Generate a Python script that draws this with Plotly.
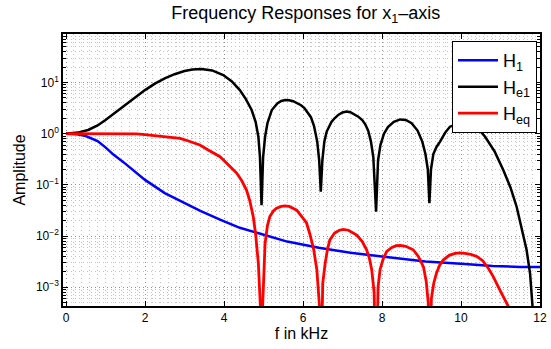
import plotly.graph_objects as go

# ---------------- data ----------------
f_h1 = [0, 0.25, 0.5, 0.8, 1.0, 1.2, 1.5, 1.75, 2.0, 2.5, 3.0, 3.4, 3.9, 4.4, 4.9,
        5.6, 6.4, 7.2, 8.0, 9.1, 10.1, 10.8, 11.5, 12.0]
h1 = [1.0, 0.98, 0.90, 0.72, 0.54, 0.39, 0.26, 0.18, 0.125, 0.069, 0.044, 0.031,
      0.021, 0.0145, 0.0112, 0.0078, 0.0059, 0.0047, 0.0040, 0.0032, 0.00285,
      0.0026, 0.0025, 0.0025]

f_he1 = [0, 0.3, 0.56, 0.8, 1.0, 1.25, 1.5, 1.75, 2.0, 2.25, 2.5, 2.75, 3.0, 3.2,
         3.43, 3.7, 3.98, 4.2, 4.4, 4.55, 4.7, 4.8, 4.87, 4.91, 4.95, 4.99, 5.04,
         5.1, 5.21, 5.35, 5.45, 5.55, 5.65, 5.75, 5.85, 5.95, 6.03, 6.1, 6.2,
         6.28, 6.36, 6.41, 6.45, 6.49, 6.54, 6.6, 6.64, 6.72, 6.8, 6.9, 7.0, 7.1,
         7.2, 7.3, 7.4, 7.5, 7.58, 7.65, 7.72, 7.78, 7.85, 7.9, 7.96, 8.05, 8.15,
         8.3, 8.46, 8.6, 8.75, 8.9, 9.02, 9.1, 9.16, 9.2, 9.24, 9.3, 9.38, 9.47,
         9.6, 9.72, 9.95, 10.15, 10.4, 10.61, 10.85, 11.07, 11.25, 11.41, 11.55,
         11.66, 11.75, 11.83, 11.9]
he1 = [1.0, 1.05, 1.18, 1.45, 1.85, 2.6, 3.6, 5.0, 7.1, 9.5, 12.0, 14.5, 16.8,
       17.9, 18.4, 17.2, 14.0, 10.5, 7.1, 4.8, 2.9, 1.7, 0.87, 0.35, 0.04, 0.35,
       0.87, 1.6, 2.9, 3.9, 4.35, 4.55, 4.5, 4.3, 4.0, 3.6, 3.2, 2.7, 2.1, 1.4,
       0.7, 0.3, 0.074, 0.3, 0.7, 1.1, 1.3, 1.7, 2.0, 2.35, 2.6, 2.7, 2.62, 2.4,
       2.15, 1.85, 1.5, 1.15, 0.7, 0.35, 0.03, 0.3, 0.6, 1.0, 1.35, 1.7, 1.9,
       1.85, 1.6, 1.15, 0.7, 0.4, 0.2, 0.044, 0.2, 0.4, 0.55, 0.7, 1.05, 1.37,
       1.6, 1.65, 1.35, 0.87, 0.45, 0.195, 0.09, 0.037, 0.013, 0.0054, 0.0018,
       0.0004, 0.00005]

f_heq = [0, 0.5, 1.0, 1.5, 1.79, 2.0, 2.25, 2.63, 2.89, 3.1, 3.39, 3.6, 3.9, 4.0,
         4.2, 4.32, 4.45, 4.57, 4.65, 4.74, 4.8, 4.87, 4.93, 4.95, 4.97, 5.04,
         5.1, 5.16, 5.25, 5.33, 5.45, 5.54, 5.65, 5.75, 5.84, 5.95, 6.09, 6.18,
         6.27, 6.35, 6.42, 6.45, 6.5, 6.56, 6.62, 6.68, 6.8, 6.92, 7.02, 7.15,
         7.26, 7.36, 7.5, 7.61, 7.68, 7.74, 7.8, 7.85, 7.9, 7.95, 8.03, 8.12,
         8.25, 8.36, 8.46, 8.6, 8.79, 8.92, 9.05, 9.12, 9.17, 9.2, 9.25, 9.31,
         9.38, 9.46, 9.55, 9.7, 9.85, 9.97, 10.1, 10.25, 10.4, 10.55, 10.7,
         10.82, 10.95, 11.1, 11.2, 11.3, 11.4]
heq = [1.0, 1.0, 1.0, 1.0, 0.99, 0.96, 0.92, 0.85, 0.81, 0.72, 0.60, 0.48, 0.355,
       0.30, 0.21, 0.17, 0.12, 0.079, 0.05, 0.024, 0.011, 0.0029, 0.0003,
       0.00001, 0.0003, 0.0072, 0.016, 0.024, 0.031, 0.035, 0.038, 0.039,
       0.038, 0.035, 0.032, 0.025, 0.018, 0.0105, 0.0055, 0.0022, 0.0004,
       0.00001, 0.0012, 0.0029, 0.0055, 0.0084, 0.0115, 0.013, 0.0135, 0.013,
       0.0118, 0.0105, 0.0078, 0.0054, 0.0037, 0.0022, 0.0008, 0.00001, 0.001,
       0.0022, 0.0036, 0.005, 0.006, 0.0065, 0.0066, 0.0063, 0.0054, 0.0040,
       0.0025, 0.0013, 0.0005, 0.00001, 0.0006, 0.0012, 0.0019, 0.0027, 0.0034,
       0.0042, 0.0046, 0.0047, 0.0046, 0.0044, 0.0040, 0.0033, 0.0023, 0.0016,
       0.0010, 0.0006, 0.00042, 0.00022, 0.0001]

x_ticks = [0, 2, 4, 6, 8, 10, 12]
y_ticks = [1e-3, 1e-2, 1e-1, 1e0, 1e1]
y_ticktext = ["10<sup>−3</sup>", "10<sup>−2</sup>", "10<sup>−1</sup>",
              "10<sup>0</sup>", "10<sup>1</sup>"]

# ---------------- figure ----------------
FONT = "Liberation Sans, Arial, Helvetica, sans-serif"

fig = go.Figure()
fig.add_trace(go.Scatter(x=f_h1, y=h1, mode="lines", name="H<sub>1</sub>",
                         line=dict(color="#0000ff", width=2.5)))
fig.add_trace(go.Scatter(x=f_he1, y=he1, mode="lines", name="H<sub>e1</sub>",
                         line=dict(color="#000000", width=2.5)))
fig.add_trace(go.Scatter(x=f_heq, y=heq, mode="lines", name="H<sub>eq</sub>",
                         line=dict(color="#ff0000", width=2.8)))

minor_y = [m * 10.0 ** d for d in range(-4, 2) for m in range(2, 10)]

fig.update_layout(
    width=551, height=349,
    margin=dict(l=63, r=11, t=34, b=43),
    paper_bgcolor="white", plot_bgcolor="white",
    font=dict(family=FONT, color="black", size=12),
    title=dict(text="Frequency Responses for x<sub>1</sub>–axis",
               x=0.555, xanchor="center", y=0.982, yanchor="top",
               font=dict(size=18)),
    showlegend=True,
    legend=dict(x=0.8155, y=0.974, xanchor="left", yanchor="top",
                bgcolor="white", bordercolor="black", borderwidth=1,
                font=dict(size=18), itemwidth=40, tracegroupgap=0),
)

fig.update_xaxes(
    range=[-0.076, 12.0], tickvals=x_ticks, ticktext=[str(v) for v in x_ticks],
    ticks="inside", ticklen=5, tickcolor="black", mirror="allticks",
    showline=True, linecolor="black", linewidth=1.5, automargin=False,
    showgrid=True, gridcolor="#909090", griddash="1px,3px", gridwidth=1,
    zeroline=False, tickfont=dict(size=12),
    title=dict(text="f in kHz", font=dict(size=16), standoff=2),
    minor=dict(dtick=0.2, ticks="", showgrid=True, gridcolor="#c4c4c4",
               griddash="1px,3px", gridwidth=1),
)
fig.update_yaxes(
    type="log", range=[-3.366, 1.947], tickvals=y_ticks, ticktext=y_ticktext,
    ticks="inside", ticklen=5, tickcolor="black", mirror="allticks",
    showline=True, linecolor="black", linewidth=1.5, automargin=False,
    showgrid=True, gridcolor="#909090", griddash="1px,3px", gridwidth=1,
    zeroline=False, tickfont=dict(size=12),
    title=dict(text="Amplitude", font=dict(size=16), standoff=6),
    minor=dict(tickvals=minor_y, ticks="inside", ticklen=3, tickcolor="black",
               showgrid=True, gridcolor="#c4c4c4", griddash="1px,3px",
               gridwidth=1),
)

fig.write_html("out.html",
               config={"displayModeBar": False},
               post_script="document.body.style.margin='0';"
                           "document.body.style.overflow='hidden';")
